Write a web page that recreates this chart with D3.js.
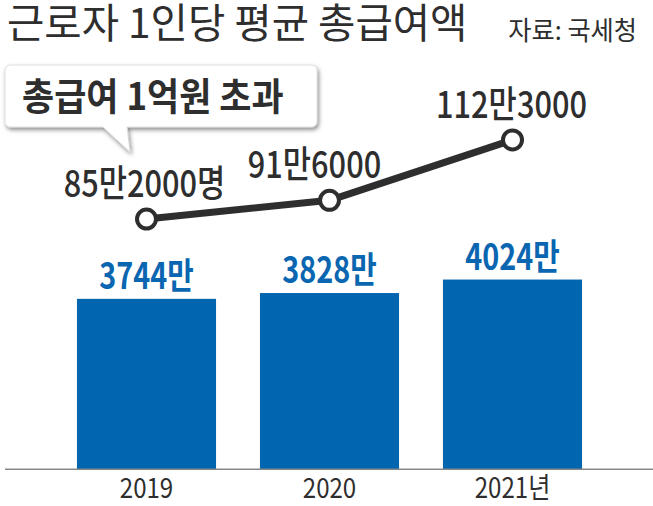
<!DOCTYPE html>
<html><head><meta charset="utf-8">
<script src="https://cdn.jsdelivr.net/npm/d3@7"></script>
<style>
html,body{margin:0;padding:0;background:#fff;}
svg{display:block;}
text{font-family:"Noto Sans CJK KR","Noto Sans",sans-serif;}
</style></head>
<body>
<script>
// ---- data ----
const years = ["2019", "2020", "2021"];
const yearLabels = ["2019", "2020", "2021년"];
const avgPay = [3744, 3828, 4024];              // 만원
const avgPayLabels = ["3744만", "3828만", "4024만"];
const highEarners = [85.2, 91.6, 112.3];        // 만명
const highEarnerLabels = ["85만2000명", "91만6000", "112만3000"];
const title = "근로자 1인당 평균 총급여액";
const source = "자료: 국세청";
const calloutText = "총급여 1억원 초과";

const W = 653, H = 506;
const svg = d3.select("body").append("svg").attr("width", W).attr("height", H);

const defs = svg.append("defs");
const f = defs.append("filter").attr("id","sh").attr("x","-10%").attr("y","-10%").attr("width","130%").attr("height","140%");
f.append("feDropShadow").attr("dx",1.5).attr("dy",2.5).attr("stdDeviation",2.2).attr("flood-color","#000").attr("flood-opacity",0.45);

function txt(g, s, x, y, size, opts){
  opts = opts || {};
  return g.append("text")
    .attr("transform", `translate(${x},${y}) scale(${opts.sx||1},1)`)
    .attr("text-anchor", opts.anchor || "start")
    .attr("font-size", size)
    .attr("font-weight", opts.weight || 400)
    .attr("fill", opts.fill || "#2e2e2e")
    .text(s);
}

// scales
const x = d3.scaleBand().domain(years).range([55, 604]).paddingInner(0.24).paddingOuter(0.12);
const baseY = 469.3;
const yBar = d3.scaleLinear().domain([1270, 4200]).range([baseY, baseY - (4200-1270)*0.0689]);
const yLine = d3.scaleLinear().domain([60, 120]).range([292.6, 117.4]);

// title + source
txt(svg, title, 7, 38, 41, {sx:0.99, weight:400});
txt(svg, source, 637, 40, 26, {anchor:"end", sx:0.97});

// bars
svg.selectAll("rect.bar").data(avgPay).join("rect").attr("class","bar")
  .attr("x", (d,i)=>x(years[i])).attr("width", x.bandwidth())
  .attr("y", d=>yBar(d)).attr("height", d=>baseY - yBar(d))
  .attr("fill", "#0165af");

// bar value labels
avgPay.forEach((d,i)=>{
  txt(svg, avgPayLabels[i], x(years[i]) + x.bandwidth()/2, yBar(d) - 10, 36, {anchor:"middle", sx:0.8, weight:700, fill:"#0a66b0"});
});

// axis baseline
svg.append("line").attr("x1",5).attr("x2",W).attr("y1",baseY).attr("y2",baseY)
  .attr("stroke","#888").attr("stroke-width",1.6);
// axis labels
years.forEach((yr,i)=>{
  txt(svg, yearLabels[i], x(yr) + x.bandwidth()/2, 498, 28, {anchor:"middle", sx:0.86});
});

// callout
const cg = svg.append("g").attr("filter","url(#sh)");
cg.append("path")
  .attr("d", "M11,65 H311 Q317,65 317,71 V121 Q317,127 311,127 H127 L130,152 L103,127 H11 Q5,127 5,121 V71 Q5,65 11,65 Z")
  .attr("fill","#fff").attr("stroke","#d8d8d8").attr("stroke-width",0.8);
txt(svg, calloutText, 22, 110, 38, {sx:0.92, weight:700});

// line
const cx = (i)=>x(years[i]) + x.bandwidth()/2;
const line = d3.line().x((d,i)=>cx(i)).y(d=>yLine(d));
svg.append("path").datum(highEarners).attr("d", line)
  .attr("fill","none").attr("stroke","#2e2e2e").attr("stroke-width",7).attr("stroke-linejoin","round");
svg.selectAll("circle.pt").data(highEarners).join("circle").attr("class","pt")
  .attr("cx",(d,i)=>cx(i)).attr("cy",d=>yLine(d)).attr("r",9.5)
  .attr("fill","#fff").attr("stroke","#2e2e2e").attr("stroke-width",4);

// line labels
const lblDx = [-2, -15, -1];
highEarners.forEach((d,i)=>{
  txt(svg, highEarnerLabels[i], cx(i) + lblDx[i], yLine(d) - 22, 37, {anchor:"middle", sx:0.83, weight:500});
});
</script>
</body></html>
